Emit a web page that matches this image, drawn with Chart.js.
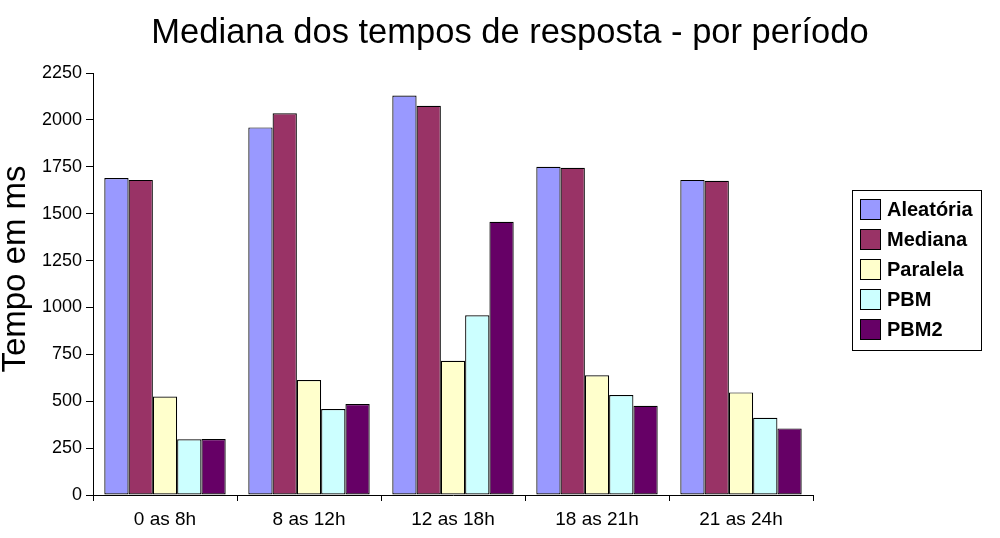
<!DOCTYPE html>
<html>
<head>
<meta charset="utf-8">
<script src="https://cdn.jsdelivr.net/npm/chart.js@4/dist/chart.umd.min.js"></script>
<style>
  html, body { margin: 0; padding: 0; background: #fff; }
  #wrap { width: 1000px; height: 538px; position: relative; }
</style>
</head>
<body>
<div id="wrap"><canvas id="c"></canvas></div>
<script>
const chartTitle = 'Mediana dos tempos de resposta - por período';
const yAxisTitle = 'Tempo em ms';
const categories = ['0 as 8h', '8 as 12h', '12 as 18h', '18 as 21h', '21 as 24h'];
const seriesNames = ['Aleatória', 'Mediana', 'Paralela', 'PBM', 'PBM2'];
const aleatoria = [1690, 1960, 2130, 1750, 1680];
const mediana   = [1680, 2035, 2075, 1745, 1675];
const paralela  = [525, 613, 716, 638, 547];
const pbm       = [297, 458, 958, 533, 412];
const pbm2      = [298, 485, 1457, 476, 355];
const yMin = 0, yMax = 2250, yStep = 250;

const colors = ['#9999FF', '#993366', '#FFFFCC', '#CCFFFF', '#660066'];
const FONT = '"Liberation Sans", Arial, sans-serif';
const seriesValues = [aleatoria, mediana, paralela, pbm, pbm2];

const titlePlugin = {
  id: 'customTexts',
  afterDraw(chart) {
    const ctx = chart.ctx;
    ctx.save();
    ctx.fillStyle = '#000';
    ctx.font = '34.5px ' + FONT;
    ctx.textAlign = 'center';
    ctx.textBaseline = 'alphabetic';
    ctx.fillText(chartTitle, 510, 43);
    ctx.font = '33px ' + FONT;
    ctx.translate(25, 269);
    ctx.rotate(-Math.PI / 2);
    ctx.fillText(yAxisTitle, 0, 0);
    ctx.restore();
  }
};

const legendPlugin = {
  id: 'customLegend',
  afterDraw(chart) {
    const ctx = chart.ctx;
    ctx.save();
    ctx.strokeStyle = '#000';
    ctx.lineWidth = 1;
    ctx.strokeRect(852.5, 190.5, 129, 160);
    ctx.font = 'bold 20px ' + FONT;
    ctx.textAlign = 'left';
    ctx.textBaseline = 'middle';
    chart.data.datasets.forEach((ds, i) => {
      const y = 199 + i * 30;
      ctx.fillStyle = ds.backgroundColor;
      ctx.fillRect(860.5, y + 0.5, 20, 20);
      ctx.strokeRect(860.5, y + 0.5, 20, 20);
      ctx.fillStyle = '#000';
      ctx.fillText(ds.label, 887, y + 11);
    });
    ctx.restore();
  }
};

new Chart(document.getElementById('c'), {
  type: 'bar',
  data: {
    labels: categories,
    datasets: seriesNames.map((name, i) => ({
      label: name,
      data: seriesValues[i],
      backgroundColor: colors[i],
      borderColor: '#000',
      borderWidth: 1.2,
      borderSkipped: false,
      categoryPercentage: 0.843,
      barPercentage: 1.0
    }))
  },
  options: {
    responsive: true,
    maintainAspectRatio: false,
    animation: false,
    devicePixelRatio: 1,
    layout: { padding: { left: 0, right: 187, top: 73, bottom: 0 } },
    plugins: {
      legend: { display: false },
      title: { display: false },
      tooltip: { enabled: false }
    },
    scales: {
      x: {
        offset: true,
        grid: { offset: true, drawOnChartArea: false, drawTicks: true, tickLength: 6, color: '#000' },
        border: { color: '#000', width: 1 },
        ticks: { color: '#000', font: { family: FONT, size: 19 }, padding: 7, maxRotation: 0 },
        afterFit(scale) { scale.height = 43; }
      },
      y: {
        min: yMin,
        max: yMax,
        ticks: {
          stepSize: yStep, color: '#000', font: { family: FONT, size: 18 }, padding: 4,
          callback: (v) => String(v)
        },
        grid: { drawOnChartArea: false, drawTicks: true, tickLength: 7, color: '#000' },
        border: { color: '#000', width: 1 },
        afterFit(scale) { scale.width = 93; }
      }
    }
  },
  plugins: [titlePlugin, legendPlugin]
});
</script>
</body>
</html>
